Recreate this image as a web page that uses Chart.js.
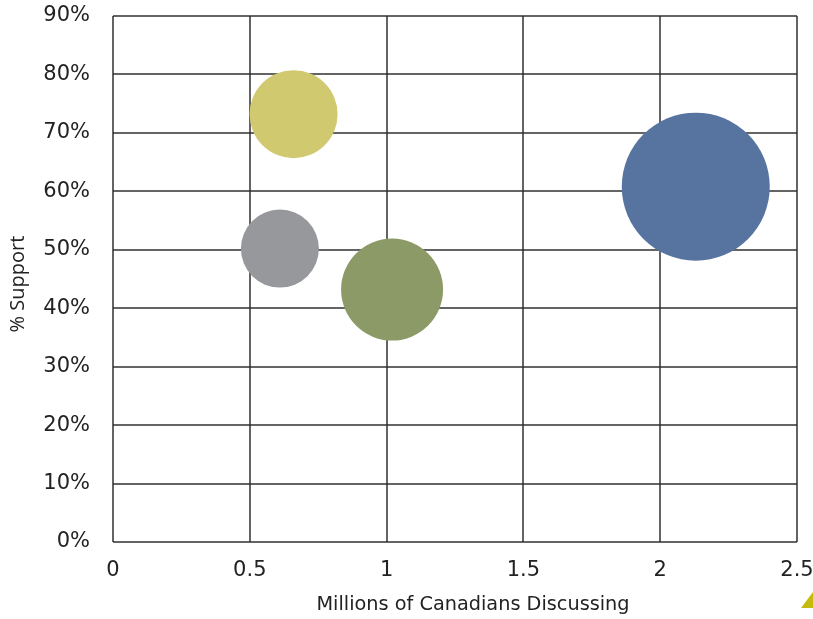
<!DOCTYPE html>
<html>
<head>
<meta charset="utf-8">
<script src="https://cdn.jsdelivr.net/npm/chart.js@4.4.1/dist/chart.umd.min.js"></script>
<style>
  html, body { margin: 0; padding: 0; background: #ffffff; }
  #wrap { width: 813px; height: 619px; }
</style>
</head>
<body>
<div id="wrap"><canvas id="chart" width="813" height="619"></canvas></div>
<script>
// Issue bubbles: reach (millions of Canadians discussing) vs. support (%)
const issueNames   = ['Issue A', 'Issue B', 'Issue C', 'Issue D'];
const reachMillions = [0.66, 0.61, 1.02, 2.13];
const supportPct    = [73.2, 50.2, 43.2, 60.8];
const bubbleRadius  = [44, 39, 51, 74];
const bubbleColors  = ['#d1c96f', '#97989c', '#8b9a66', '#57739f'];

const xTicks = [0, 0.5, 1, 1.5, 2, 2.5];
const yTicks = [0, 10, 20, 30, 40, 50, 60, 70, 80, 90];

const xTitle = 'Millions of Canadians Discussing';
const yTitle = '% Support';

const gridColor = 'rgba(40,40,40,0.72)';
const tickFont = { family: 'DejaVu Sans', size: 21 };

// axis titles and the small corner accent
const decorations = {
  id: 'decorations',
  afterDraw(chart) {
    const ctx = chart.ctx;
    ctx.save();
    ctx.fillStyle = '#222222';
    ctx.font = '19.3px "DejaVu Sans"';
    ctx.textAlign = 'center';
    ctx.textBaseline = 'middle';
    ctx.fillText(xTitle, 473, 605);

    ctx.translate(18, 284);
    ctx.rotate(-Math.PI / 2);
    ctx.font = '20px "Open Sans"';
    ctx.fillText(yTitle, 0, 0);
    ctx.restore();

    ctx.save();
    ctx.fillStyle = '#c4bb0c';
    ctx.beginPath();
    ctx.moveTo(801, 608);
    ctx.lineTo(813, 592);
    ctx.lineTo(813, 608);
    ctx.closePath();
    ctx.fill();
    ctx.restore();
  }
};

new Chart(document.getElementById('chart'), {
  type: 'bubble',
  data: {
    datasets: issueNames.map((name, i) => ({
      label: name,
      data: [{ x: reachMillions[i], y: supportPct[i], r: bubbleRadius[i] }],
      backgroundColor: bubbleColors[i],
      borderWidth: 0,
      hoverBorderWidth: 0,
      hoverRadius: 0
    }))
  },
  options: {
    responsive: false,
    animation: false,
    events: [],
    layout: { autoPadding: false, padding: { left: 0, right: 16, top: 16, bottom: 0 } },
    plugins: {
      legend: { display: false },
      tooltip: { enabled: false }
    },
    scales: {
      x: {
        type: 'linear',
        min: 0,
        max: 2.5,
        z: 1,
        afterBuildTicks(scale) { scale.ticks = xTicks.map(v => ({ value: v })); },
        afterFit(scale) {
          scale.height = 77;
          scale.paddingLeft = 0;
          scale.paddingRight = 0;
        },
        ticks: {
          font: tickFont,
          color: '#222222',
          padding: 16,
          maxRotation: 0,
          callback: v => String(v)
        },
        grid: { color: gridColor, lineWidth: 2, drawTicks: false },
        border: { display: false }
      },
      y: {
        type: 'linear',
        min: 0,
        max: 90,
        z: 1,
        afterBuildTicks(scale) { scale.ticks = yTicks.map(v => ({ value: v })); },
        afterFit(scale) {
          scale.width = 113;
          scale.paddingTop = 0;
          scale.paddingBottom = 0;
        },
        ticks: {
          font: tickFont,
          color: '#222222',
          padding: 23,
          callback: v => v + '%'
        },
        grid: { color: gridColor, lineWidth: 2, drawTicks: false },
        border: { display: false }
      }
    }
  },
  plugins: [decorations]
});
</script>
</body>
</html>
